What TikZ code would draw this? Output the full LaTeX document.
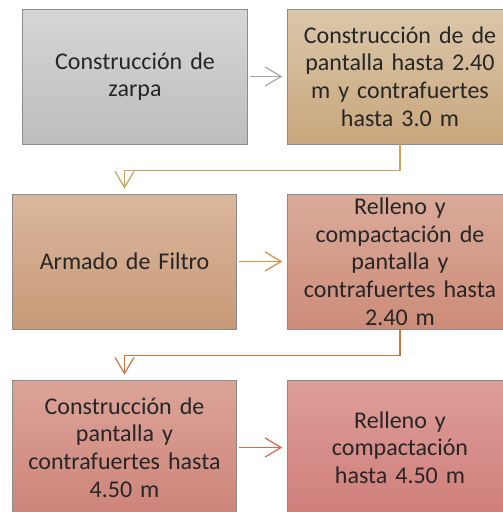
\documentclass[tikz,border=0pt]{standalone}
\usepackage{fontspec}
\setmainfont{Carlito}
\usepackage{tikz}
\usetikzlibrary{positioning}
\usetikzlibrary{arrows.meta}

\definecolor{txtgray}{HTML}{262626}
\definecolor{linegray}{HTML}{A6A6A6}
\definecolor{linegold}{HTML}{C9A35E}
\definecolor{lineorange}{HTML}{D98E48}
\definecolor{linerust}{HTML}{CF7444}
\definecolor{linered}{HTML}{D0694A}

\tikzset{
    stepbox/.style={rectangle, draw=black!45, line width=0.8pt,
        minimum width=224pt, minimum height=135pt,
        text width=218pt, align=center, text=txtgray,
        font=\fontsize{24}{27.7}\selectfont},
    flow/.style={line width=1.3pt, shorten <=2pt, shorten >=5pt,
        -{Straight Barb[length=16pt, width=19pt, line width=1.2pt]}}
}

\begin{document}
\begin{tikzpicture}[x=1pt, y=-1pt]
        \clip (0,0) rectangle (503,512);
        \fill[white] (0,0) rectangle (503,512);

        \node[stepbox, top color={rgb,255:red,214;green,214;blue,214},
            bottom color={rgb,255:red,189;green,189;blue,189}]
        (zarpa) at (135,76.5)
        {Construcción de\\ zarpa};

        \node[stepbox, top color={rgb,255:red,219;green,199;blue,170},
            bottom color={rgb,255:red,200;green,166;blue,124}]
        (pantalla) at (400,76.5)
        {Construcción de de\\ pantalla hasta 2.40\\ m y contrafuertes\\ hasta 3.0 m};

        \node[stepbox, top color={rgb,255:red,218;green,183;blue,157},
            bottom color={rgb,255:red,200;green,153;blue,119}]
        (filtro) at (124.5,261.5)
        {Armado de Filtro};

        \node[stepbox, top color={rgb,255:red,218;green,170;blue,153},
            bottom color={rgb,255:red,205;green,140;blue,121}]
        (relleno) at (400,261.5)
        {Relleno y\\ compactación de\\ pantalla y\\ contrafuertes hasta\\ 2.40 m};

        \node[stepbox, top color={rgb,255:red,219;green,164;blue,152},
            bottom color={rgb,255:red,206;green,132;blue,122}]
        (contra) at (124.5,447.5)
        {Construcción de\\ pantalla y\\ contrafuertes hasta\\ 4.50 m};

        \node[stepbox, top color={rgb,255:red,221;green,158;blue,154},
            bottom color={rgb,255:red,208;green,126;blue,122}]
        (final) at (400,447.5)
        {Relleno y\\ compactación\\ hasta 4.50 m};

        \draw[flow, linegray] (zarpa) -- (pantalla);
        \draw[flow, lineorange] (filtro) -- (relleno);
        \draw[flow, linered] (contra) -- (final);

        \draw[flow, linegold, shorten <=0pt]
        (pantalla.south) -- ++(0,26) -| (filtro.north);
        \draw[flow, linerust, shorten <=0pt]
        (relleno.south) -- ++(0,26) -| (contra.north);
\end{tikzpicture}
\end{document}
